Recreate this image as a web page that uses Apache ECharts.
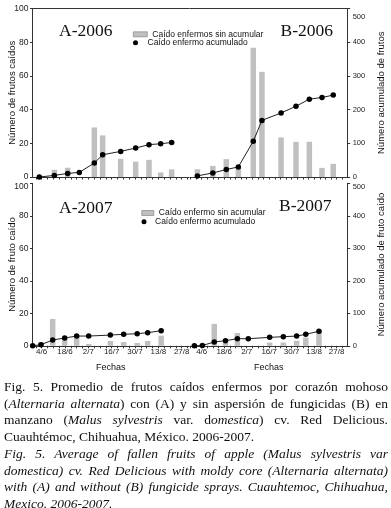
<!DOCTYPE html>
<html>
<head>
<meta charset="utf-8">
<script src="https://cdn.jsdelivr.net/npm/echarts@6/dist/echarts.min.js"></script>
<style>
  body { margin: 0; background: #fff; }
  #chart { position: absolute; left: 0; top: 0; width: 391px; height: 508px; }
  #caption {
    position: absolute; left: 4px; top: 379px; width: 384px;
    font-family: "Liberation Serif", "Times New Roman", serif;
    font-size: 13.5px; line-height: 16.6px; color: #111;
  }
  #caption div { white-space: nowrap; }
  #caption .j { text-align: justify; text-align-last: justify; white-space: normal; }
  #caption .en { font-style: italic; margin-top: 0.7px; }
</style>
</head>
<body>
<div id="chart"></div>
<div id="caption">
  <div class="j">Fig. 5. Promedio de frutos caídos enfermos por corazón mohoso</div>
  <div class="j">(<i>Alternaria alternata</i>) con (A) y sin aspersión de fungicidas (B) en</div>
  <div class="j">manzano (<i>Malus sylvestris</i> var. d<i>omestica</i>) cv. Red Delicious.</div>
  <div>Cuauhtémoc, Chihuahua, México. 2006-2007.</div>
  <div class="en">
    <div class="j">Fig. 5. Average of fallen fruits of apple (Malus sylvestris var</div>
    <div class="j">domestica) cv. Red Delicious with moldy core (Alternaria alternata)</div>
    <div class="j">with (A) and without (B) fungicide sprays. Cuauhtemoc, Chihuahua,</div>
    <div>Mexico. 2006-2007.</div>
  </div>
</div>
<script>
// x values are days counted from 4/6
const dateLabels = ["4/6", "18/6", "2/7", "16/7", "30/7", "13/8", "27/8"];
const labelDays = [0, 14, 28, 42, 56, 70, 84];

// A-2006 (con aspersión)
const a06PointDays = [-1.4, 7.6, 15.6, 22.6, 31.6, 36.6, 47.4, 56.4, 64.4, 71.4, 78.0];
const a06Acumulado = [0, 4.7, 10.7, 13.6, 41.5, 66, 76, 86, 96, 98.7, 102.5];
const a06BarDays = [7.6, 15.6, 31.6, 36.6, 47.4, 56.4, 64.4, 71.4, 78.0];
const a06Caidos = [4.3, 5.5, 29.4, 24.7, 10.8, 9.1, 10.2, 2.7, 4.5];

// B-2006 (sin aspersión)
const b06PointDays = [-2.7, 6.9, 15.3, 22.8, 32.1, 37.5, 49.4, 58.7, 67.0, 74.9, 81.9];
const b06Acumulado = [3.3, 12, 22, 30, 106, 168, 190, 210, 231, 236, 243];
const b06BarDays = [-2.7, 6.9, 15.3, 22.8, 32.1, 37.5, 49.4, 58.7, 67.0, 74.9, 81.9];
const b06Caidos = [4.6, 6.6, 10.6, 6.0, 76.7, 62.4, 23.5, 20.9, 20.9, 5.4, 7.8];

// A-2007
const a07PointDays = [-5.4, -0.4, 6.6, 13.8, 21.0, 28.2, 41.2, 49.2, 57.3, 63.6, 71.7];
const a07Acumulado = [0, 3.4, 17.8, 24, 30, 30, 33, 35.4, 37.2, 40.3, 46.5];
const a07BarDays = [-0.4, 6.6, 13.8, 21.0, 28.2, 41.2, 49.2, 57.3, 63.6, 71.7];
const a07Caidos = [2.3, 16.5, 4.2, 5.6, 1.1, 3.0, 2.3, 1.7, 3.0, 6.2];

// B-2007
const b07PointDays = [-4.6, 0.4, 7.8, 14.8, 22.2, 29.0, 42.3, 50.8, 59.1, 64.8, 73.0];
const b07Acumulado = [0, 1, 11.7, 15.7, 21.8, 21.8, 26, 28, 30, 35.4, 44.6];
const b07BarDays = [7.8, 14.8, 22.2, 42.3, 50.8, 59.1, 64.8, 73.0];
const b07Caidos = [13.5, 2.0, 7.8, 2.0, 2.0, 3.1, 5.1, 8.8];

const sans = '"Liberation Sans", Arial, sans-serif';
const serif = '"Liberation Serif", "Times New Roman", serif';
const ink = "#111";
const axisColor = "#333";
const barColor = "#c0c0c0";

const barName06 = "Caído enfermos sin acumular";
const barName07 = "Caído enfermo sin acumular";
const lineName = "Caído enfermo acumulado";

const pairs = (xs, ys) => xs.map((x, i) => [x, ys[i]]);

function tickDays(min, max) {
  const t = [];
  for (let d = Math.ceil(min / 3.5) * 3.5; d <= max; d += 3.5) t.push(d);
  return t;
}

function dateAxis(grid, min, max, showLabels) {
  return {
    type: "value",
    gridIndex: grid,
    min: min,
    max: max,
    axisLine: { onZero: false, lineStyle: { color: axisColor, width: 1 } },
    axisTick: { customValues: tickDays(min, max), length: 2.5, lineStyle: { color: axisColor } },
    axisLabel: {
      show: showLabels,
      customValues: labelDays,
      formatter: (v) => dateLabels[labelDays.indexOf(v)],
      fontSize: 8,
      fontFamily: sans,
      color: "#222",
      margin: 2,
    },
    splitLine: { show: false },
    name: showLabels ? "Fechas" : "",
    nameLocation: "middle",
    nameGap: 17.5,
    nameMoveOverlap: false,
    nameTextStyle: { fontSize: 9, fontFamily: sans, color: ink },
  };
}

function topLine(grid, min, max) {
  return {
    type: "value",
    gridIndex: grid,
    position: "top",
    min: min,
    max: max,
    axisLine: { onZero: false, lineStyle: { color: axisColor, width: 1 } },
    axisTick: { show: false },
    axisLabel: { show: false },
    splitLine: { show: false },
  };
}

function valueAxis(grid, side, max, step, visible, name, shift, fontSize, margin, nameGap) {
  return {
    type: "value",
    gridIndex: grid,
    position: side,
    min: 0,
    max: max,
    interval: step,
    show: visible,
    axisLine: { show: true, onZero: false, lineStyle: { color: axisColor, width: 1 } },
    axisTick: { show: true, length: 2.5, lineStyle: { color: axisColor } },
    axisLabel: {
      fontSize: fontSize,
      fontFamily: sans,
      color: "#222",
      margin: margin,
      formatter: (v) => (v === max && shift ? "{t|" + v + "}" : String(v)),
      rich: { t: { fontSize: fontSize, fontFamily: sans, color: "#222", padding: [shift * 2, 0, 0, 0] } },
    },
    splitLine: { show: false },
    name: name,
    nameLocation: "middle",
    nameRotate: 90,
    nameGap: nameGap,
    nameMoveOverlap: false,
    nameTextStyle: { fontSize: 9.5, fontFamily: sans, color: ink },
  };
}

function barSeries(name, grid, days, vals) {
  return {
    name: name,
    type: "bar",
    xAxisIndex: grid,
    yAxisIndex: grid * 2,
    barWidth: 5.5,
    itemStyle: { color: barColor },
    data: pairs(days, vals),
  };
}

function lineSeries(grid, days, vals) {
  return {
    name: lineName,
    type: "line",
    xAxisIndex: grid,
    yAxisIndex: grid * 2 + 1,
    symbol: "circle",
    symbolSize: 5.5,
    z: 3,
    itemStyle: { color: "#000" },
    lineStyle: { color: "#222", width: 1 },
    data: pairs(days, vals),
  };
}

function panelTitle(text, left, top) {
  return {
    text: text,
    left: left,
    top: top,
    padding: 0,
    textStyle: { fontFamily: serif, fontSize: 17.5, fontWeight: "normal", color: ink, lineHeight: 18 },
  };
}

function legendItem(name, icon, left, top, width, style) {
  return {
    left: left,
    top: top,
    padding: 0,
    itemWidth: width,
    itemHeight: 5,
    selectedMode: false,
    data: [{ name: name, icon: icon, itemStyle: style }],
    textStyle: { fontSize: 8.5, lineHeight: 9, fontFamily: sans, color: ink },
  };
}

const chart = echarts.init(document.getElementById("chart"));
const barLegendStyle = { color: barColor, borderColor: "#777", borderWidth: 0.6 };
const dotLegendStyle = { color: "#000" };

chart.setOption({
  animation: false,
  backgroundColor: "transparent",
  grid: [
    { left: 32.5, top: 8.5, width: 156.5, height: 168.5 },
    { left: 190, top: 8.5, width: 157.7, height: 168.5 },
    { left: 32.5, top: 183.3, width: 156.5, height: 162.5 },
    { left: 190, top: 183.3, width: 157.7, height: 162.5 },
  ],
  title: [
    panelTitle("A-2006", 59, 22),
    panelTitle("B-2006", 280.5, 22.5),
    panelTitle("A-2007", 59, 199.5),
    panelTitle("B-2007", 279, 197),
  ],
  legend: [
    legendItem(barName06, "rect", 133, 29.8, 14, barLegendStyle),
    legendItem(lineName, "circle", 133, 38.2, 14, dotLegendStyle),
    legendItem(barName07, "rect", 141.5, 208.5, 12, barLegendStyle),
    legendItem(lineName, "circle", 141.5, 217.2, 12, dotLegendStyle),
  ],
  xAxis: [
    dateAxis(0, -5.5, 88.4, false),
    dateAxis(1, -7.3, 90.9, false),
    dateAxis(2, -5.5, 88.4, true),
    dateAxis(3, -7.3, 90.9, true),
    topLine(0, -5.5, 88.4),
    topLine(1, -7.3, 90.9),
  ],
  yAxis: [
    valueAxis(0, "left", 100, 20, true, "Número de frutos caídos", 0, 8.5, 4, 15),
    valueAxis(0, "right", 500, 100, false, "", 0, 7.5, 5, 29),
    valueAxis(1, "left", 100, 20, false, "", 0, 8.5, 4, 15),
    valueAxis(1, "right", 500, 100, true, "Número acumulado de frutos", 8, 7.5, 5, 29),
    valueAxis(2, "left", 100, 20, true, "Número de fruto caído", 3.5, 8.5, 4, 15),
    valueAxis(2, "right", 500, 100, false, "", 0, 7.5, 5, 29),
    valueAxis(3, "left", 100, 20, false, "", 0, 8.5, 4, 15),
    valueAxis(3, "right", 500, 100, true, "Número acumulado de fruto caído", 3.5, 7.5, 5, 29),
  ],
  series: [
    barSeries(barName06, 0, a06BarDays, a06Caidos),
    lineSeries(0, a06PointDays, a06Acumulado),
    barSeries(barName06, 1, b06BarDays, b06Caidos),
    lineSeries(1, b06PointDays, b06Acumulado),
    barSeries(barName07, 2, a07BarDays, a07Caidos),
    lineSeries(2, a07PointDays, a07Acumulado),
    barSeries(barName07, 3, b07BarDays, b07Caidos),
    lineSeries(3, b07PointDays, b07Acumulado),
  ],
});
</script>
</body>
</html>
